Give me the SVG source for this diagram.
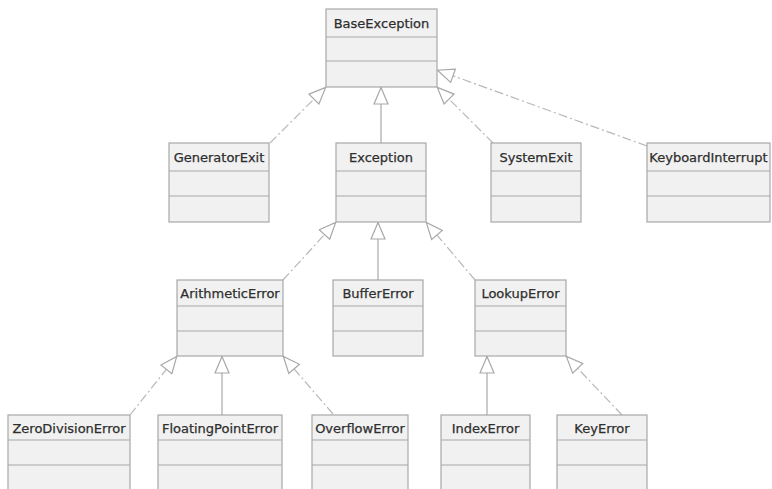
<svg xmlns="http://www.w3.org/2000/svg" width="772" height="489" viewBox="0 0 772 489">
<defs>
<marker id="tri" viewBox="0 0 18 16" refX="18" refY="8" markerWidth="18" markerHeight="16" markerUnits="userSpaceOnUse" orient="auto">
<path d="M1,1 L17.5,8 L1,15 Z" fill="#ffffff" stroke="#a8a8a8" stroke-width="1.2"/>
</marker>
<style>
.box rect{fill:#f1f1f1;stroke:#a8a8a8;stroke-width:1.2}
.box line{stroke:#a8a8a8;stroke-width:1.2}
.box text{font-family:"DejaVu Sans",Verdana,sans-serif;font-size:13px;fill:#2e2e2e;stroke:#2e2e2e;stroke-width:0.25;text-anchor:middle}
.solid{stroke:#a8a8a8;stroke-width:1.2;fill:none;marker-end:url(#tri)}
.dash{stroke:#b8b8b8;stroke-width:1.2;fill:none;stroke-dasharray:9,3,2,3;marker-end:url(#tri)}
</style>
</defs>
<rect width="772" height="489" fill="#ffffff"/>
<g id="connectors">
<line class="dash" x1="270" y1="143" x2="326" y2="87"/>
<line class="solid" x1="381" y1="143" x2="381" y2="87"/>
<line class="dash" x1="493" y1="143" x2="437" y2="87"/>
<line class="dash" x1="647" y1="146" x2="437" y2="70"/>
<line class="dash" x1="283" y1="280" x2="336" y2="222"/>
<line class="solid" x1="378" y1="280" x2="378" y2="222"/>
<line class="dash" x1="475" y1="280" x2="426" y2="222"/>
<line class="dash" x1="130" y1="415" x2="177" y2="356"/>
<line class="solid" x1="222" y1="415" x2="222" y2="356"/>
<line class="dash" x1="333" y1="414" x2="283" y2="356"/>
<line class="solid" x1="487" y1="415" x2="487" y2="356"/>
<line class="dash" x1="622" y1="415" x2="566" y2="356"/>
</g>
<g id="BaseException" class="box">
<rect x="326" y="9" width="111" height="78"/>
<line x1="326" y1="37" x2="437" y2="37"/><line x1="326" y1="61" x2="437" y2="61"/>
<text x="381.5" y="28">BaseException</text>
</g>
<g id="GeneratorExit" class="box">
<rect x="169" y="143" width="100" height="79"/>
<line x1="169" y1="171" x2="269" y2="171"/><line x1="169" y1="196" x2="269" y2="196"/>
<text x="219" y="162">GeneratorExit</text>
</g>
<g id="Exception" class="box">
<rect x="336" y="143" width="90" height="79"/>
<line x1="336" y1="171" x2="426" y2="171"/><line x1="336" y1="196" x2="426" y2="196"/>
<text x="381" y="162">Exception</text>
</g>
<g id="SystemExit" class="box">
<rect x="491" y="143" width="90" height="79"/>
<line x1="491" y1="171" x2="581" y2="171"/><line x1="491" y1="196" x2="581" y2="196"/>
<text x="536" y="162">SystemExit</text>
</g>
<g id="KeyboardInterrupt" class="box">
<rect x="647" y="143" width="123" height="79"/>
<line x1="647" y1="171" x2="770" y2="171"/><line x1="647" y1="196" x2="770" y2="196"/>
<text x="708.5" y="162">KeyboardInterrupt</text>
</g>
<g id="ArithmeticError" class="box">
<rect x="177" y="280" width="106" height="76"/>
<line x1="177" y1="306" x2="283" y2="306"/><line x1="177" y1="331" x2="283" y2="331"/>
<text x="230" y="298">ArithmeticError</text>
</g>
<g id="BufferError" class="box">
<rect x="333" y="280" width="90" height="76"/>
<line x1="333" y1="306" x2="423" y2="306"/><line x1="333" y1="331" x2="423" y2="331"/>
<text x="378" y="298">BufferError</text>
</g>
<g id="LookupError" class="box">
<rect x="475" y="280" width="91" height="76"/>
<line x1="475" y1="306" x2="566" y2="306"/><line x1="475" y1="331" x2="566" y2="331"/>
<text x="520.5" y="298">LookupError</text>
</g>
<g id="ZeroDivisionError" class="box">
<rect x="8" y="415" width="122" height="78"/>
<line x1="8" y1="440" x2="130" y2="440"/><line x1="8" y1="465" x2="130" y2="465"/>
<text x="69" y="433">ZeroDivisionError</text>
</g>
<g id="FloatingPointError" class="box">
<rect x="158" y="415" width="124" height="78"/>
<line x1="158" y1="440" x2="282" y2="440"/><line x1="158" y1="465" x2="282" y2="465"/>
<text x="220" y="433">FloatingPointError</text>
</g>
<g id="OverflowError" class="box">
<rect x="312" y="415" width="96" height="78"/>
<line x1="312" y1="440" x2="408" y2="440"/><line x1="312" y1="465" x2="408" y2="465"/>
<text x="360" y="433">OverflowError</text>
</g>
<g id="IndexError" class="box">
<rect x="441" y="415" width="89" height="78"/>
<line x1="441" y1="440" x2="530" y2="440"/><line x1="441" y1="465" x2="530" y2="465"/>
<text x="485.5" y="433">IndexError</text>
</g>
<g id="KeyError" class="box">
<rect x="557" y="415" width="90" height="78"/>
<line x1="557" y1="440" x2="647" y2="440"/><line x1="557" y1="465" x2="647" y2="465"/>
<text x="602" y="433">KeyError</text>
</g>
</svg>
